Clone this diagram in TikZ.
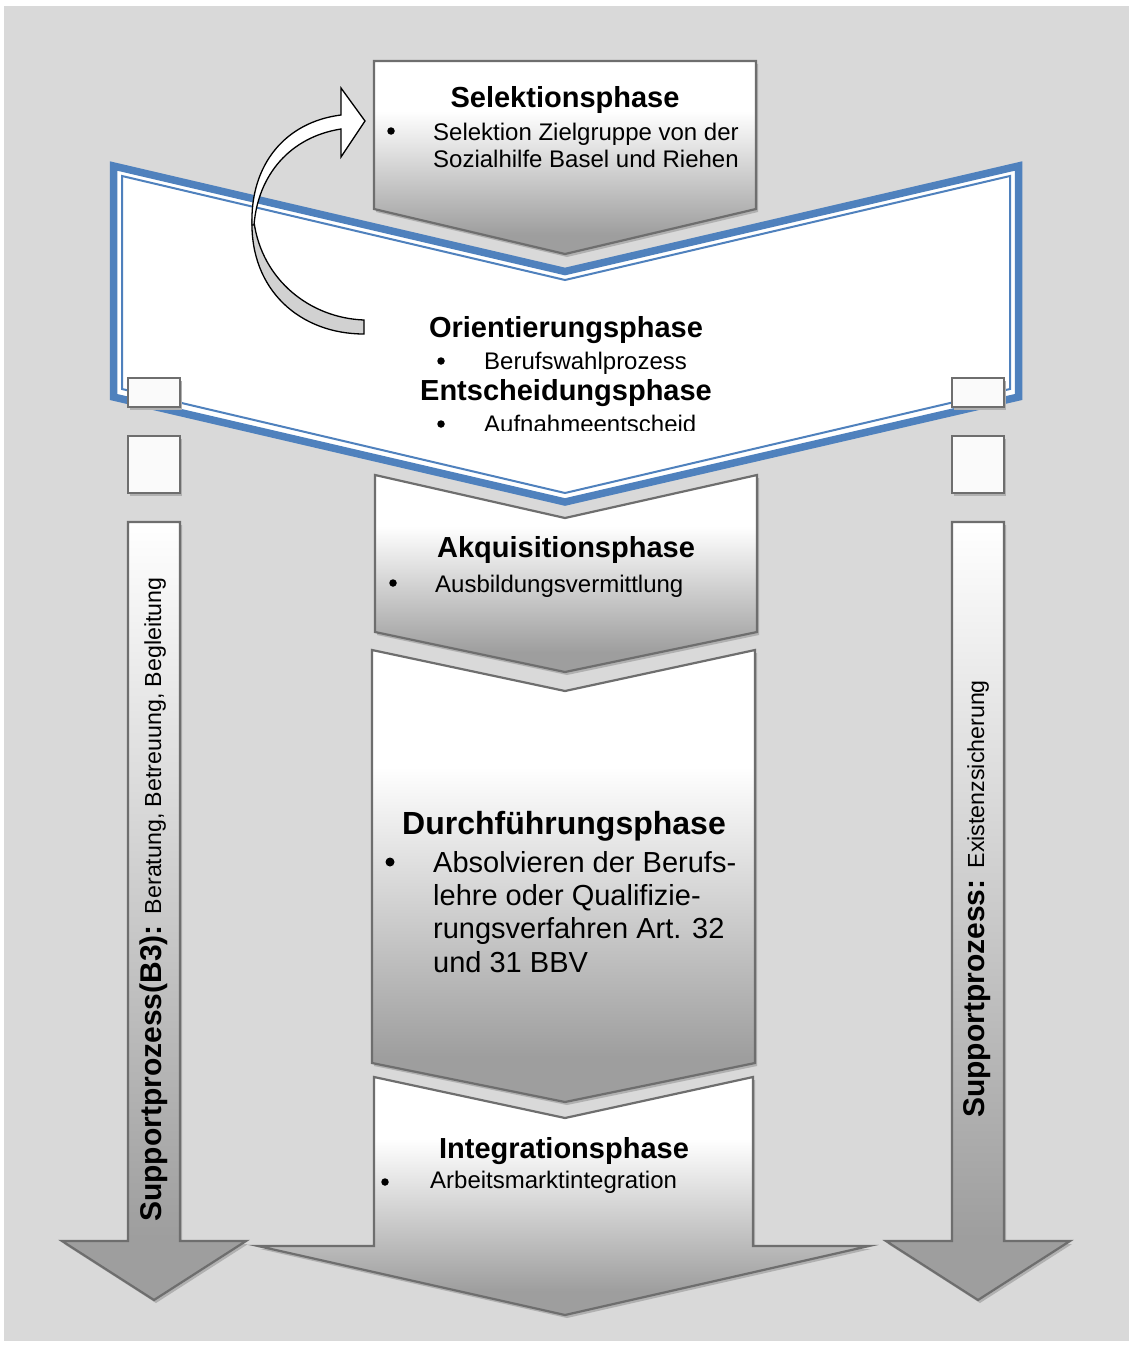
\documentclass[tikz,border=0pt]{standalone}
\usepackage{fontspec}
\setmainfont{Liberation Sans}
\usetikzlibrary{shadows}
\definecolor{bggray}{RGB}{217,217,217}
\definecolor{rimgray}{RGB}{110,110,110}
\definecolor{phgray}{RGB}{158,158,158}
\definecolor{shadegray}{RGB}{176,176,176}
\definecolor{chevblue}{RGB}{79,129,189}
\pgfdeclareverticalshading{phasefade}{100bp}{color(0bp)=(phgray); color(30bp)=(phgray); color(62bp)=(white); color(100bp)=(white)}
\pgfdeclareverticalshading{arrowfade}{100bp}{color(0bp)=(phgray); color(29bp)=(phgray); color(75bp)=(white); color(100bp)=(white)}

\begin{document}
\begin{tikzpicture}[x=1pt,y=-1pt,
  phasebox/.style={draw=rimgray, line width=2.2pt, shading=phasefade,
    drop shadow={shadow xshift=2pt, shadow yshift=-3pt, fill=shadegray, opacity=1}},
  sidearrow/.style={draw=rimgray, line width=2.2pt, shading=arrowfade,
    drop shadow={shadow xshift=2pt, shadow yshift=-3pt, fill=shadegray, opacity=1}},
  spacer/.style={draw=rimgray, line width=2.5pt, fill=white!98!black,
    drop shadow={shadow xshift=2pt, shadow yshift=-3pt, fill=shadegray, opacity=1}},
  title/.style={font=\fontsize{29}{34}\selectfont\bfseries, inner sep=0, anchor=base},
  item/.style={font=\fontsize{24}{28}\selectfont, inner sep=0, anchor=base west},
  dot/.style={circle, fill=black, inner sep=0, minimum size=7.5pt},
  bigtitle/.style={font=\fontsize{32}{38}\selectfont\bfseries, inner sep=0, anchor=base},
  bigitem/.style={font=\fontsize{29}{34}\selectfont, inner sep=0, anchor=base west},
  bigdot/.style={circle, fill=black, inner sep=0, minimum size=9pt}]
\useasboundingbox (0,0) rectangle (1129,1346);
\fill[white] (0,0) rectangle (1129,1346);
\fill[bggray] (4,6) rectangle (1129,1341);

% orientation and decision chevron
\draw[chevblue, line width=7.5pt, fill=white, miter limit=20] (113.5,166) -- (565,271.5) -- (1018.5,166) -- (1018.5,397) -- (565,502) -- (113.5,397) -- cycle;
\draw[chevblue, line width=2pt, miter limit=20] (122,176) -- (565,280) -- (1010,176) -- (1010,389) -- (565,493) -- (122,389) -- cycle;

% phases
\path[phasebox] (374,61) -- (756,61) -- (756,209) -- (565,254) -- (374,209) -- cycle;
\path[phasebox] (375,475) -- (565,518) -- (757,475) -- (757,632) -- (565,672) -- (375,632) -- cycle;
\path[phasebox] (372,650) -- (565,691) -- (755,650) -- (755,1063) -- (565,1102) -- (372,1063) -- cycle;
\path[phasebox] (374,1077) -- (565,1118) -- (753,1077) -- (753,1246) -- (869,1246) -- (565,1315) -- (258,1246) -- (374,1246) -- cycle;

% support arrows
\begin{scope}[shift={(0,0)}]
\path[spacer] (128,378) rectangle (180,407);
\path[spacer] (128,436) rectangle (180,493);
\path[sidearrow] (128,522) -- (180,522) -- (180,1241) -- (246,1241) -- (154,1300) -- (62,1241) -- (128,1241) -- cycle;
\end{scope}
\begin{scope}[shift={(824,0)}]
\path[spacer] (128,378) rectangle (180,407);
\path[spacer] (128,436) rectangle (180,493);
\path[sidearrow] (128,522) -- (180,522) -- (180,1241) -- (246,1241) -- (154,1300) -- (62,1241) -- (128,1241) -- cycle;
\end{scope}

% loop back arrow
\filldraw[fill=black!18, draw=black, line width=1.3pt] (252,220) .. controls (250,290) and (300,334) .. (364,334) -- (364,320) .. controls (310,318) and (262,280) .. (254,222) -- cycle;
\filldraw[fill=white, draw=black, line width=1.3pt] (252,225) .. controls (250,165) and (285,122) .. (341,115) -- (341,88) -- (365,121) -- (341,157) -- (341,129) .. controls (290,137) and (258,175) .. (254,225) -- cycle;

% texts
\node[title] (selTitle) at (565,107) {Selektionsphase};
\node[dot] (selDot) at (391,131) {};
\node[item] (selItemA) at (433,140) {Selektion Zielgruppe von der};
\node[item] (selItemB) at (433,167) {Sozialhilfe Basel und Riehen};

\node[title] (oriTitle) at (566,337) {Orientierungsphase};
\node[dot] (oriDot) at (441,361) {};
\node[item] (oriItem) at (484,369) {Berufswahlprozess};
\node[title] (entTitle) at (566,400) {Entscheidungsphase};
\begin{scope}
\clip (0,0) rectangle (1129,430);
\node[dot] (entDot) at (441,424) {};
\node[item] (entItem) at (484,432) {Aufnahmeentscheid};
\end{scope}

\node[title] (akqTitle) at (566,557) {Akquisitionsphase};
\node[dot] (akqDot) at (393,583) {};
\node[item] (akqItem) at (435,592) {Ausbildungsvermittlung};

\node[bigtitle] (durTitle) at (564,834) {Durchführungsphase};
\node[bigdot] (durDot) at (390,862) {};
\node[bigitem] (durItemA) at (433,872) {Absolvieren der Berufs-};
\node[bigitem] (durItemB) at (433,905) {lehre oder Qualifizie-};
\node[bigitem] (durItemC) at (433,938) {rungsverfahren Art. 32};
\node[bigitem] (durItemD) at (433,972) {und 31 BBV};

\node[title] (intTitle) at (564,1158) {Integrationsphase};
\node[dot] (intDot) at (385,1182) {};
\node[item] (intItem) at (430,1188) {Arbeitsmarktintegration};

\node[rotate=90, inner sep=0, anchor=base west] (supLeft) at (161,1222)
  {\fontsize{30}{34}\selectfont\bfseries Supportprozess(B3): \fontsize{23.2}{28}\selectfont\mdseries Beratung, Betreuung, Begleitung};
\node[rotate=90, inner sep=0, anchor=base west] (supRight) at (984,1118)
  {\fontsize{30}{34}\selectfont\bfseries Supportprozess: \fontsize{23.2}{28}\selectfont\mdseries Existenzsicherung};
\end{tikzpicture}
\end{document}
